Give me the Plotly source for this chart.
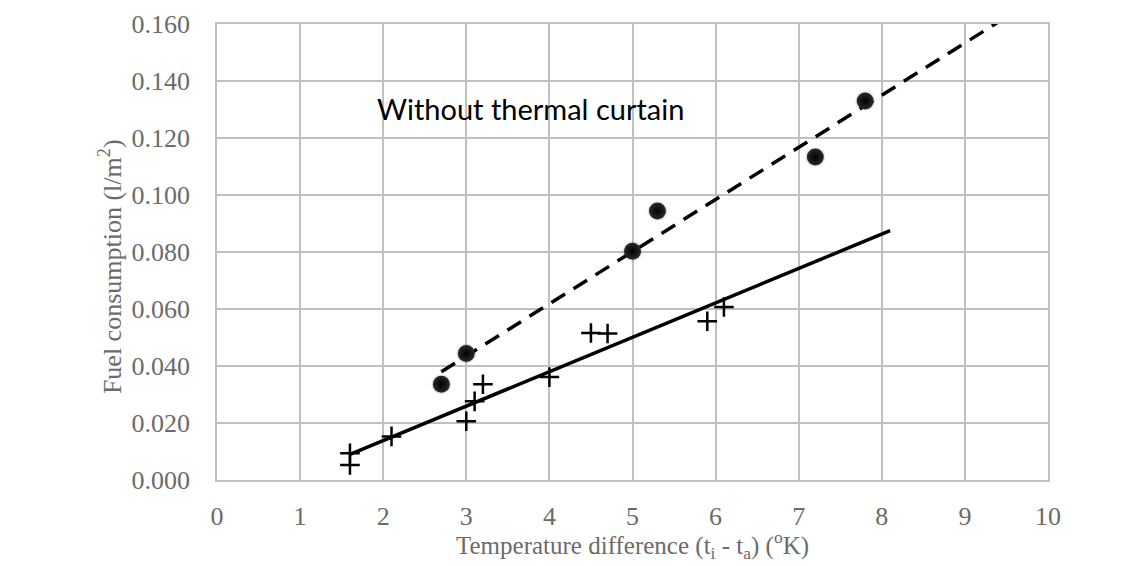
import numpy as np
import plotly.graph_objects as go

# Data
x_without = [2.7, 3.0, 5.0, 5.3, 7.2, 7.8]
y_without = [0.0336, 0.0444, 0.0803, 0.0944, 0.1133, 0.1330]

x_with = [1.6, 1.6, 2.1, 3.0, 3.1, 3.2, 4.0, 4.5, 4.7, 5.9, 6.1]
y_with = [0.0094, 0.0053, 0.0153, 0.0206, 0.0276, 0.0336, 0.0361, 0.0516, 0.0514, 0.0557, 0.0607]

x_ticks = list(range(0, 11))
y_ticks = [0.0, 0.02, 0.04, 0.06, 0.08, 0.10, 0.12, 0.14, 0.16]
y_ticklabels = ["0.000", "0.020", "0.040", "0.060", "0.080", "0.100", "0.120", "0.140", "0.160"]

forecast_forward = 2.0

# Linear trendlines (least squares), extended forward like the original
def trend(xs, ys):
    m, b = np.polyfit(xs, ys, 1)
    x0, x1 = min(xs), max(xs) + forecast_forward
    xx = np.array([x0, x1])
    return xx, m * xx + b

tx_wo, ty_wo = trend(x_without, y_without)
tx_w, ty_w = trend(x_with, y_with)

fig = go.Figure()

fig.add_trace(go.Scatter(x=tx_wo, y=ty_wo, mode="lines",
                         line=dict(color="black", width=3.5, dash="16px,10px"),
                         hoverinfo="skip", showlegend=False))
fig.add_trace(go.Scatter(x=tx_w, y=ty_w, mode="lines",
                         line=dict(color="black", width=3.5),
                         hoverinfo="skip", showlegend=False))

# soft shadows
fig.add_trace(go.Scatter(x=x_without, y=y_without, mode="markers",
                         marker=dict(symbol="circle", size=20, color="rgba(0,0,0,0.10)"),
                         hoverinfo="skip", showlegend=False))
fig.add_trace(go.Scatter(x=x_without, y=y_without, mode="markers",
                         marker=dict(symbol="circle", size=17, color="#2a2a2a",
                                     line=dict(width=0),
                                     gradient=dict(type="radial", color="#000000")),
                         showlegend=False, name="Without thermal curtain"))
fig.add_trace(go.Scatter(x=x_with, y=y_with, mode="markers",
                         marker=dict(symbol="cross-thin", size=14,
                                     line=dict(color="black", width=2.5)),
                         showlegend=False, name="With thermal curtain"))

fig.add_annotation(x=3.77, y=0.1305, xref="x", yref="y",
                   text="Without thermal curtain", showarrow=False,
                   font=dict(family="Lato", size=29, color="black"))

title_font = dict(family="Liberation Serif", size=26, color="#6b6b6b")
fig.add_annotation(x=-0.1288, y=0.469, xref="paper", yref="paper",
                   text="Fuel consumption (l/m<sup>2</sup>)", textangle=-90,
                   showarrow=False, xanchor="center", yanchor="middle", font=title_font)
fig.add_annotation(x=0.5006, y=-0.1425, xref="paper", yref="paper",
                   text="Temperature difference (t<sub>i</sub> - t<sub>a</sub>) (<sup>o</sup>K)",
                   showarrow=False, xanchor="center", yanchor="middle",
                   font=dict(family="Liberation Serif", size=25, color="#6b6b6b"))

axis_font = dict(family="Liberation Serif", size=26, color="#6b6b6b")
fig.update_xaxes(range=[0, 10], tickvals=x_ticks, ticktext=[str(v) for v in x_ticks],
                 showgrid=True, gridcolor="#c0c0c0", gridwidth=1.5,
                 showline=True, linecolor="#c0c0c0", linewidth=1.5, mirror=True,
                 zeroline=False, ticks="", tickfont=axis_font, ticklabelstandoff=12)
fig.update_yaxes(range=[0, 0.16], tickvals=y_ticks, ticktext=y_ticklabels,
                 showgrid=True, gridcolor="#c0c0c0", gridwidth=1.5,
                 showline=True, linecolor="#c0c0c0", linewidth=1.5, mirror=True,
                 zeroline=False, ticks="", tickfont=axis_font, ticklabelstandoff=20)

fig.update_layout(width=1143, height=566,
                  margin=dict(l=217, r=95, t=24, b=86, autoexpand=False),
                  plot_bgcolor="white", paper_bgcolor="white")

fig.write_html("out.html")
